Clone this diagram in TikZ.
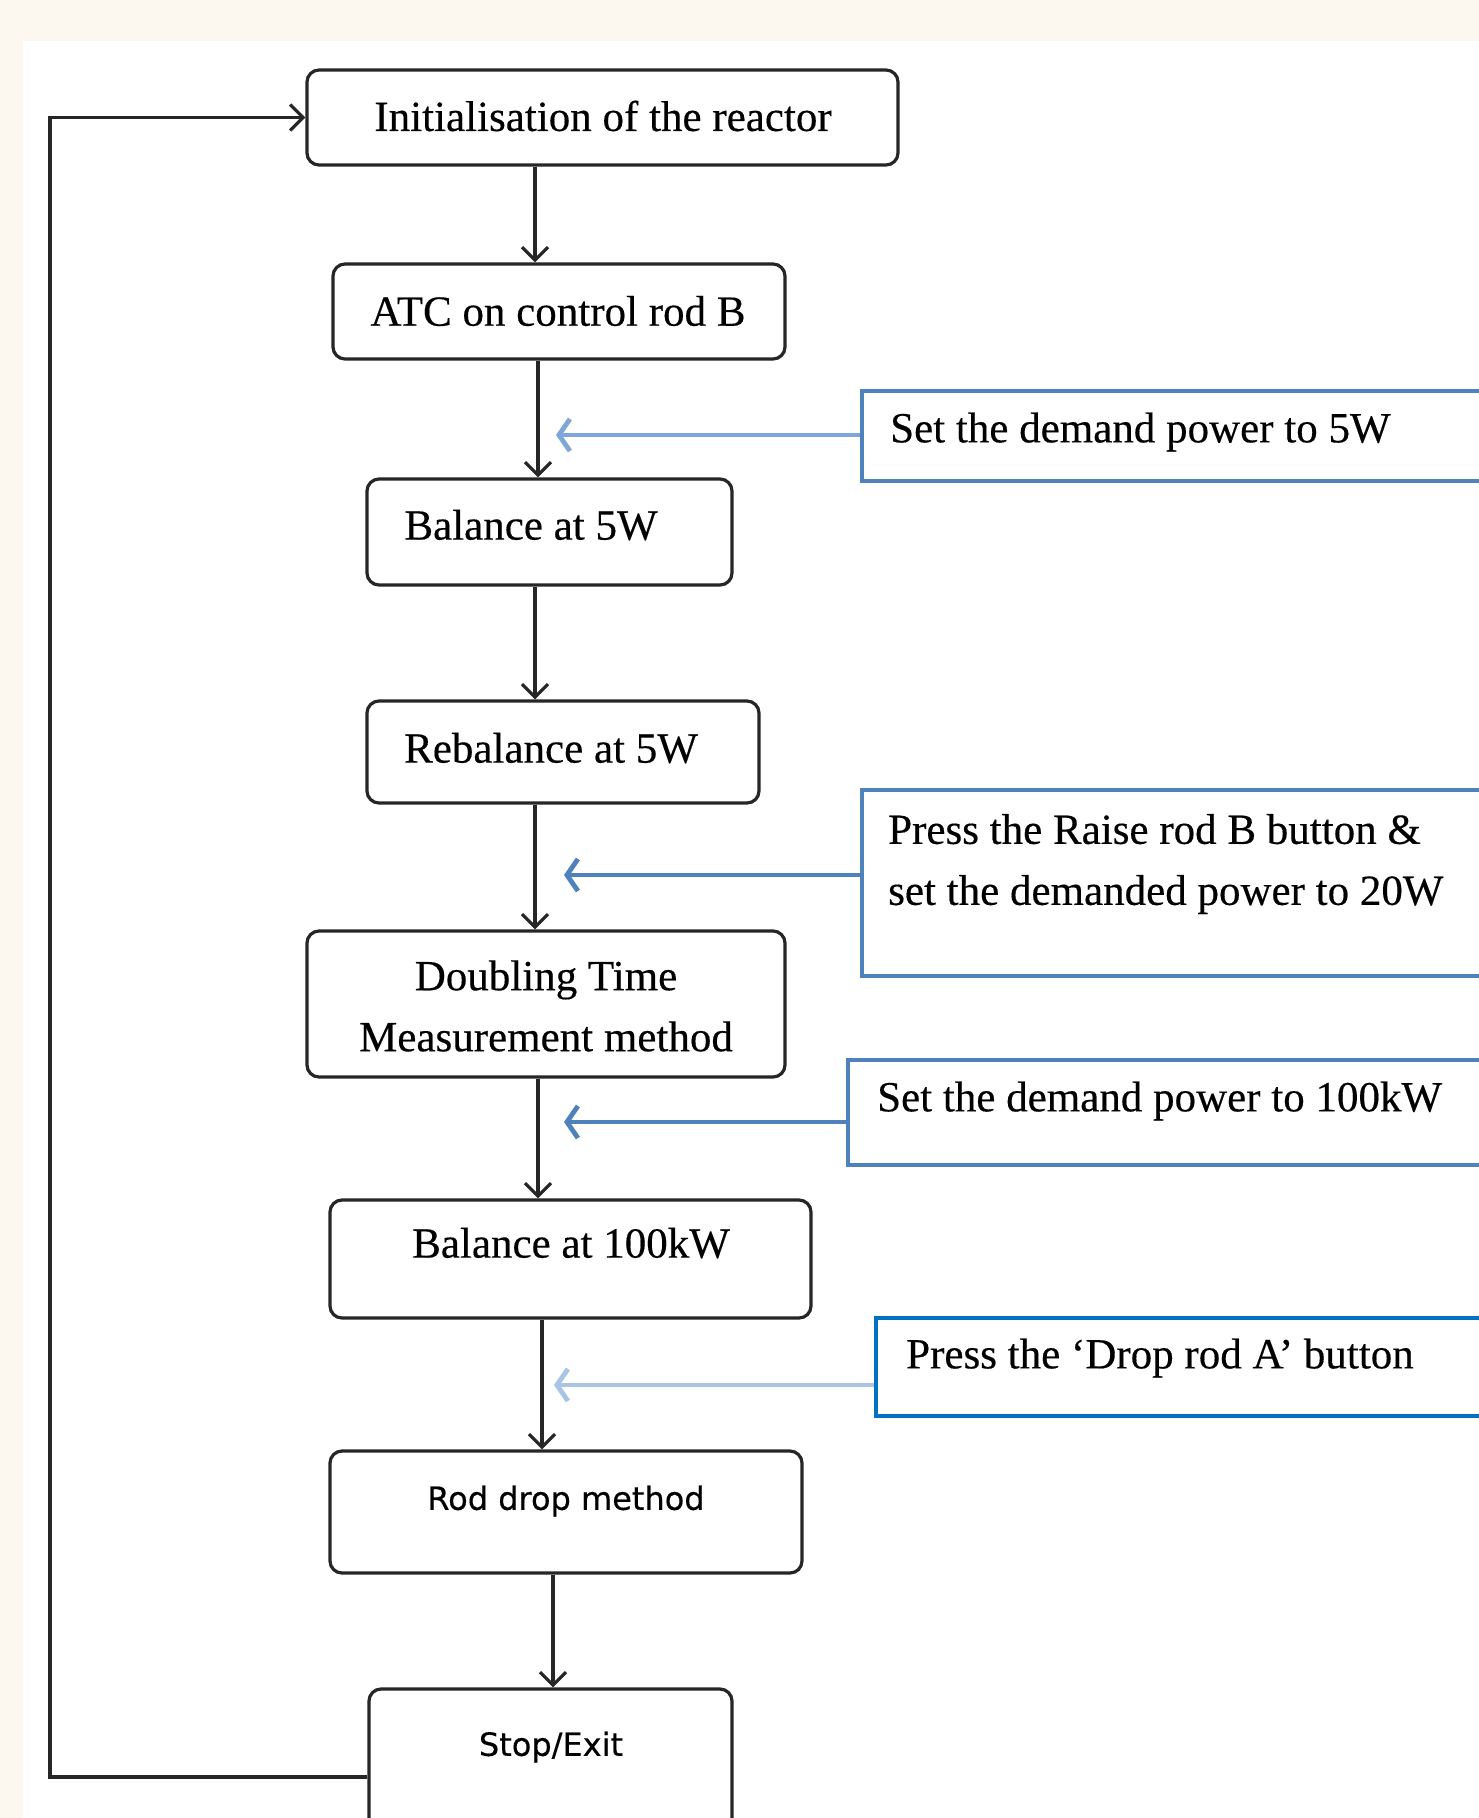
\documentclass[tikz,border=0pt]{standalone}
\usepackage{fontspec}
\setmainfont{Liberation Serif}
\newfontfamily\serf[FakeBold=0.35]{Liberation Serif}
\newfontfamily\sansf[FakeBold=0.4]{DejaVu Sans}
\usetikzlibrary{arrows.meta,calc}
\definecolor{cream}{HTML}{FCF8F0}
\definecolor{boxblue}{HTML}{4F81BD}
\definecolor{boxblueD}{HTML}{0070C0}
\definecolor{arrA}{HTML}{7EA6D8}
\definecolor{arrD}{HTML}{A9C4E4}
\begin{document}
\begin{tikzpicture}[x=1pt,y=-1pt,
  flowbox/.style={draw=black!85, line width=3.2pt, rounded corners=12pt, fill=white, inner sep=0pt},
  bluebox/.style={draw=boxblue, line width=3.8pt, fill=white, inner sep=0pt},
  serif/.style={font=\serf\fontsize{43}{61}\selectfont, inner sep=0pt, align=center},
  serifl/.style={font=\serf\fontsize{43}{61}\selectfont, inner sep=0pt, align=left, anchor=west},
  sanstext/.style={font=\sansf\fontsize{32}{38}\selectfont, inner sep=0pt},
  flow/.style={draw=black!85, line width=3.2pt, -{Straight Barb[length=13pt,width=26pt]}},
  feed/.style={line width=4.8pt, -{Straight Barb[length=11pt,width=32pt]}},
]
\useasboundingbox (0,0) rectangle (1479,1818);
\clip (0,0) rectangle (1479,1818);
\fill[cream] (0,0) rectangle (1479,1818);
\fill[white] (23,41) rectangle (1479,1818);

% flow boxes
\node[flowbox, minimum width=591pt, minimum height=95pt] (b1) at (602.5,117.5) {};
\node[flowbox, minimum width=452pt, minimum height=95pt] (b2) at (559,311.5) {};
\node[flowbox, minimum width=365pt, minimum height=106pt] (b3) at (549.5,532) {};
\node[flowbox, minimum width=392pt, minimum height=102pt] (b4) at (563,752) {};
\node[flowbox, minimum width=478pt, minimum height=146pt] (b5) at (546,1004) {};
\node[flowbox, minimum width=481pt, minimum height=118pt] (b6) at (570.5,1259) {};
\node[flowbox, minimum width=472pt, minimum height=122pt] (b7) at (566,1512) {};
\node[flowbox, minimum width=363pt, minimum height=211pt] (b8) at (550.5,1794.5) {};

% texts of flow boxes
\node[serif] (t1) at (603,116) {Initialisation of the reactor};
\node[serif] (t2) at (558,311) {ATC on control rod B};
\node[serif] (t3) at (531,525) {Balance at 5W};
\node[serif] (t4) at (551,748) {Rebalance at 5W};
\node[serif] (t5) at (546,1006) {Doubling Time\\Measurement method};
\node[serif] (t6) at (571,1243) {Balance at 100kW};
\node[sanstext] (t7) at (566,1501) {Rod drop method};
\node[sanstext] (t8) at (551,1747) {Stop/Exit};

% blue boxes
\node[bluebox, minimum width=638pt, minimum height=90pt] (A) at (1181,436) {};
\node[bluebox, minimum width=638pt, minimum height=186pt] (B) at (1181,883) {};
\node[bluebox, minimum width=652pt, minimum height=105pt] (C) at (1174,1112.5) {};
\node[bluebox, draw=boxblueD, minimum width=624pt, minimum height=98pt] (D) at (1188,1367) {};

\node[serifl] (tA) at (890,432) {Set the demand power to 5W};
\node[serifl] (tB) at (888,864) {Press the Raise rod B button \&\\set the demanded power to 20W};
\node[serifl] (tC) at (877,1101) {Set the demand power to 100kW};
\node[serifl] (tD) at (906,1358) {Press the ‘Drop rod A’ button};

% x positions of vertical connectors
\coordinate (x1) at (535,0);
\coordinate (x2) at (538,0);
\coordinate (x3) at (535,0);
\coordinate (x4) at (535,0);
\coordinate (x5) at (538,0);
\coordinate (x6) at (542,0);
\coordinate (x7) at (553,0);

\draw[flow] (b1.south -| x1) -- (b2.north -| x1);
\draw[flow] (b2.south -| x2) -- (b3.north -| x2);
\draw[flow] (b3.south -| x3) -- (b4.north -| x3);
\draw[flow] (b4.south -| x4) -- (b5.north -| x4);
\draw[flow] (b5.south -| x5) -- (b6.north -| x5);
\draw[flow] (b6.south -| x6) -- (b7.north -| x6);
\draw[flow] (b7.south -| x7) -- (b8.north -| x7);

% blue side arrows
\coordinate (eA) at (556,435);
\coordinate (eB) at (564,875);
\coordinate (eC) at (564,1122);
\coordinate (eD) at (554,1385);
\draw[feed, arrA] (A.west |- eA) -- (eA);
\draw[feed, boxblue] (B.west |- eB) -- (eB);
\draw[feed, boxblue] (C.west |- eC) -- (eC);
\draw[feed, arrD] (D.west |- eD) -- (eD);

% feedback loop
\coordinate (fl) at (50,0);
\coordinate (fy) at (0,1777);
\draw[flow] (b8.west |- fy) -- (fl |- fy) -- (fl |- b1.west) -- (b1.west);
\end{tikzpicture}
\end{document}
